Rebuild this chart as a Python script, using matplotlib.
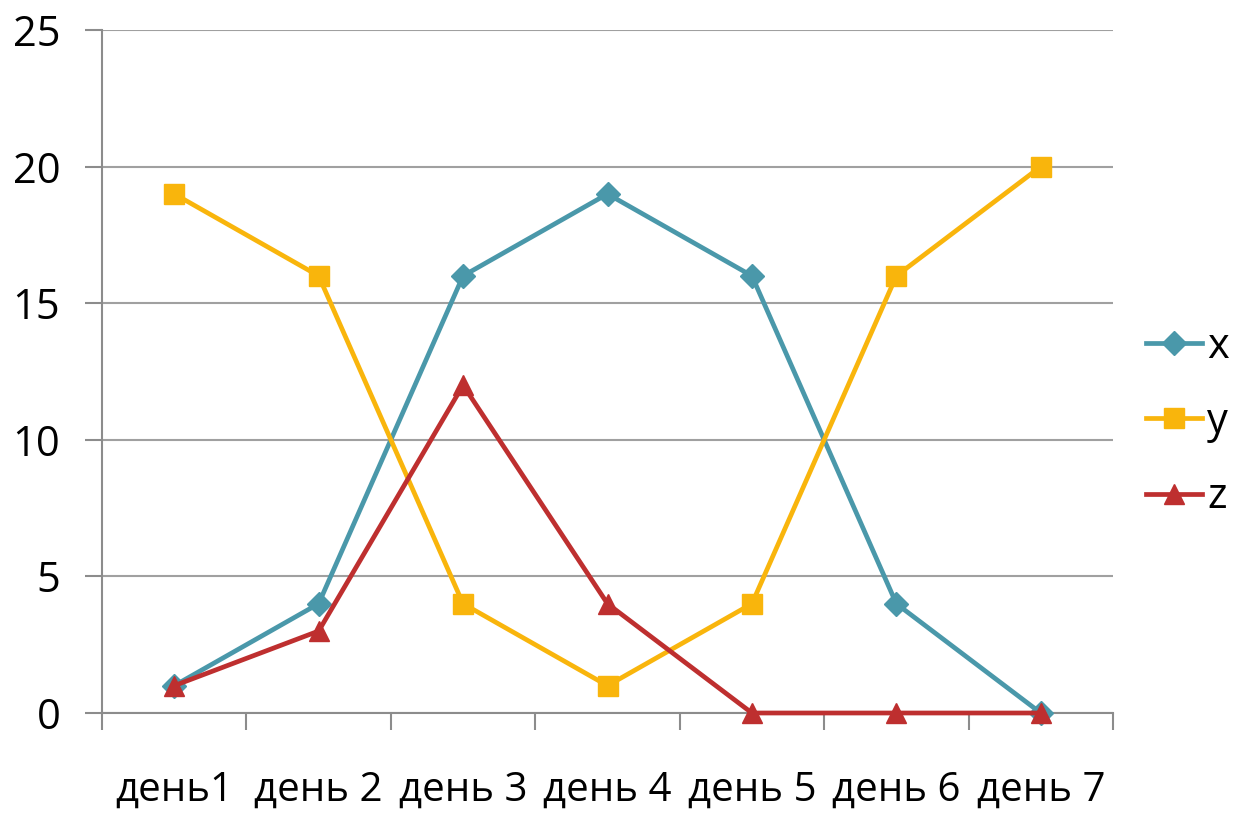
import matplotlib
matplotlib.use("Agg")
import matplotlib.pyplot as plt
import numpy as np

categories = ["день1", "день 2", "день 3", "день 4", "день 5", "день 6", "день 7"]
x_vals = [1, 4, 16, 19, 16, 4, 0]
y_vals = [19, 16, 4, 1, 4, 16, 20]
z_vals = [1, 3, 12, 4, 0, 0, 0]
y_ticks = [0, 5, 10, 15, 20, 25]

plt.rcParams['font.family'] = ['Open Sans', 'DejaVu Sans']

fig = plt.figure(figsize=(12.4, 8.13), dpi=100)
ax = fig.add_axes([102/1240, 100/813, (1113-102)/1240, (713-30)/813])

pos = np.arange(len(categories))
series = [
    ("x", x_vals, "#4A98AA", "D", 12),
    ("y", y_vals, "#F9B50C", "s", 14),
    ("z", z_vals, "#BE2F2F", "^", 14),
]
for name, vals, col, mk, ms in series:
    ax.plot(pos, vals, color=col, lw=3.4, marker=mk, markersize=ms,
            markerfacecolor=col, markeredgecolor=col, label=name, zorder=3,
            clip_on=False)

ax.set_xlim(-0.5, len(categories) - 0.5)
ax.set_ylim(0, 25)
ax.set_yticks(y_ticks)
ax.set_yticklabels([str(t) for t in y_ticks], fontsize=30)
ax.set_xticks(pos)
ax.set_xticklabels(categories, fontsize=29)
ax.set_xticks(np.arange(len(categories) + 1) - 0.5, minor=True)
ax.tick_params(axis='x', which='major', length=0, pad=41)
ax.tick_params(axis='x', which='minor', length=12, width=1.5, color='#8C8C8C')
ax.tick_params(axis='y', length=12, width=1.5, color='#8C8C8C', pad=18)

ax.grid(axis='y', color='#A0A0A0', lw=1.5, zorder=0)
ax.set_axisbelow(True)
for side in ['top', 'right']:
    ax.spines[side].set_visible(False)
for side in ['left', 'bottom']:
    ax.spines[side].set_color('#8C8C8C')
    ax.spines[side].set_linewidth(1.5)

ax.legend(loc='center left', bbox_to_anchor=(1146/1240, 1 - 422/813),
          bbox_transform=fig.transFigure, frameon=False,
          fontsize=30, handlelength=1.35, handletextpad=0.12, labelspacing=0.8,
          borderaxespad=0, borderpad=0)

fig.savefig("out.png", dpi=100)
